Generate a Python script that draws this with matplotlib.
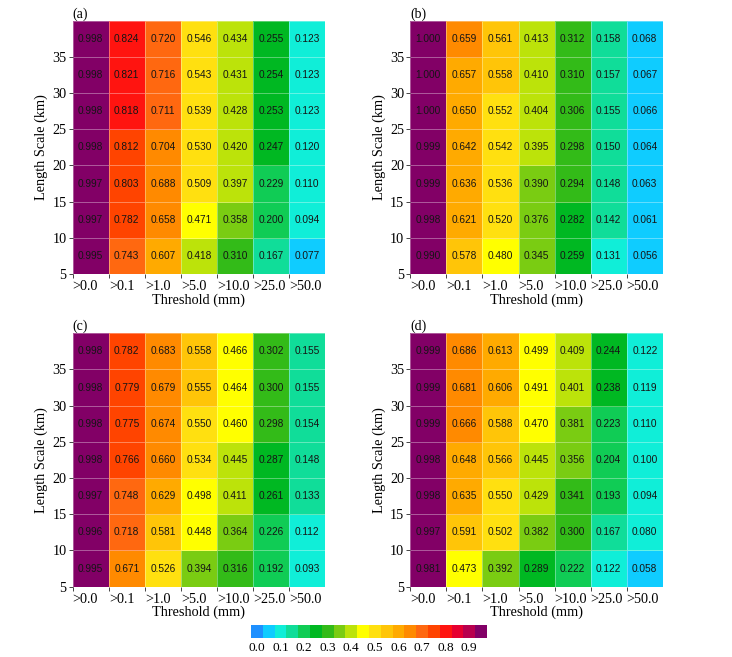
import numpy as np
import matplotlib
matplotlib.use("Agg")
import matplotlib.pyplot as plt
from matplotlib.colors import ListedColormap, BoundaryNorm
from matplotlib.transforms import ScaledTranslation
import matplotlib.cm as cm

thresholds = [">0.0", ">0.1", ">1.0", ">5.0", ">10.0", ">25.0", ">50.0"]
length_ticks = [5, 10, 15, 20, 25, 30, 35]
row_edges = [5, 10, 15, 20, 25, 30, 35, 40]

# rows listed from top (largest length scale) to bottom
panel_a = [
    [0.998, 0.824, 0.720, 0.546, 0.434, 0.255, 0.123],
    [0.998, 0.821, 0.716, 0.543, 0.431, 0.254, 0.123],
    [0.998, 0.818, 0.711, 0.539, 0.428, 0.253, 0.123],
    [0.998, 0.812, 0.704, 0.530, 0.420, 0.247, 0.120],
    [0.997, 0.803, 0.688, 0.509, 0.397, 0.229, 0.110],
    [0.997, 0.782, 0.658, 0.471, 0.358, 0.200, 0.094],
    [0.995, 0.743, 0.607, 0.418, 0.310, 0.167, 0.077],
]
panel_b = [
    [1.000, 0.659, 0.561, 0.413, 0.312, 0.158, 0.068],
    [1.000, 0.657, 0.558, 0.410, 0.310, 0.157, 0.067],
    [1.000, 0.650, 0.552, 0.404, 0.306, 0.155, 0.066],
    [0.999, 0.642, 0.542, 0.395, 0.298, 0.150, 0.064],
    [0.999, 0.636, 0.536, 0.390, 0.294, 0.148, 0.063],
    [0.998, 0.621, 0.520, 0.376, 0.282, 0.142, 0.061],
    [0.990, 0.578, 0.480, 0.345, 0.259, 0.131, 0.056],
]
panel_c = [
    [0.998, 0.782, 0.683, 0.558, 0.466, 0.302, 0.155],
    [0.998, 0.779, 0.679, 0.555, 0.464, 0.300, 0.155],
    [0.998, 0.775, 0.674, 0.550, 0.460, 0.298, 0.154],
    [0.998, 0.766, 0.660, 0.534, 0.445, 0.287, 0.148],
    [0.997, 0.748, 0.629, 0.498, 0.411, 0.261, 0.133],
    [0.996, 0.718, 0.581, 0.448, 0.364, 0.226, 0.112],
    [0.995, 0.671, 0.526, 0.394, 0.316, 0.192, 0.093],
]
panel_d = [
    [0.999, 0.686, 0.613, 0.499, 0.409, 0.244, 0.122],
    [0.999, 0.681, 0.606, 0.491, 0.401, 0.238, 0.119],
    [0.999, 0.666, 0.588, 0.470, 0.381, 0.223, 0.110],
    [0.998, 0.648, 0.566, 0.445, 0.356, 0.204, 0.100],
    [0.998, 0.635, 0.550, 0.429, 0.341, 0.193, 0.094],
    [0.997, 0.591, 0.502, 0.382, 0.300, 0.167, 0.080],
    [0.981, 0.473, 0.392, 0.289, 0.222, 0.122, 0.058],
]
panel_labels = ["(a)", "(b)", "(c)", "(d)"]
cbar_labels = ["0.0", "0.1", "0.2", "0.3", "0.4", "0.5", "0.6", "0.7", "0.8", "0.9"]

colors = [
    "#1E90FF", "#0FCCFF", "#10EED8", "#10DD99", "#10CC55",
    "#00B822", "#33BB18", "#7ACC12", "#BCE30A", "#FFFF00",
    "#FFE010", "#FFC508", "#FFAA00", "#FF8A00", "#FF6810",
    "#FF4400", "#FF1410", "#E60030", "#B8004E", "#820066",
]
cmap = ListedColormap(colors)
# each value maps to the nearest of 20 evenly spaced colour levels (k/19)
cell_norm = BoundaryNorm((np.arange(21) - 0.5) / 19.0, 20)

serif = ["Liberation Serif", "DejaVu Serif"]
sans = ["Liberation Sans", "DejaVu Sans"]

fig = plt.figure(figsize=(7.32, 6.57), dpi=100)
W, H = 732, 657
pos = [(72.7, 20.7), (410.3, 20.7), (72.7, 333.3), (410.3, 333.3)]
aw, ah = 252.5, 253.3

for (px, py), data, lab in zip(pos, [panel_a, panel_b, panel_c, panel_d], panel_labels):
    ax = fig.add_axes([px / W, 1 - (py + ah) / H, aw / W, ah / H])
    arr = np.array(data)[::-1]  # bottom row first
    xe = np.arange(len(thresholds) + 1)
    ax.pcolormesh(xe, row_edges, arr, cmap=cmap, norm=cell_norm,
                  edgecolors=(1, 1, 1, 0.35), linewidth=0.5)
    for i in range(arr.shape[0]):
        yc = (row_edges[i] + row_edges[i + 1]) / 2
        for j in range(arr.shape[1]):
            ax.text(j + 0.5, yc, f"{arr[i, j]:.3f}", ha="center", va="center",
                    fontsize=7.3, family=sans, color="#151515")
    ax.set_xlim(0, len(thresholds))
    ax.set_ylim(row_edges[0], row_edges[-1])
    ax.set_xticks(np.arange(len(thresholds)))
    ax.set_xticklabels(thresholds, family=serif, fontsize=10.2, ha="left")
    ax.set_yticks(length_ticks)
    ax.set_yticklabels([str(t) for t in length_ticks], family=serif, fontsize=10.2)
    off_x = ScaledTranslation(-3 / 100, 0, fig.dpi_scale_trans)
    for t in ax.get_xticklabels():
        t.set_transform(t.get_transform() + off_x)
    off_y = ScaledTranslation(0, 2 / 100, fig.dpi_scale_trans)
    for t in ax.get_yticklabels():
        t.set_transform(t.get_transform() + off_y)
    ax.tick_params(direction="out", length=3, width=0.7, color="#444444", pad=1.5)
    for s in ax.spines.values():
        s.set_visible(False)
    ax.set_xlabel("Threshold (mm)", family=serif, fontsize=10.3, labelpad=0)
    ax.set_ylabel("Length Scale (km)", family=serif, fontsize=10.3, labelpad=3)
    ax.text(0.0, 1.0, lab, transform=ax.transAxes, ha="left", va="bottom",
            family=serif, fontsize=10)

cax = fig.add_axes([251 / W, 1 - 638 / H, 236 / W, 13 / H])
sm = cm.ScalarMappable(cmap=cmap, norm=BoundaryNorm(np.linspace(0, 1, 21), 20))
cb = fig.colorbar(sm, cax=cax, orientation="horizontal")
cb.outline.set_visible(False)
cb.set_ticks(0.025 + 0.1 * np.arange(len(cbar_labels)))
cb.set_ticklabels(cbar_labels)
cax.minorticks_off()
cax.tick_params(length=0, pad=3)
for t in cax.get_xticklabels():
    t.set_family(serif)
    t.set_fontsize(9.6)

fig.savefig("out.png", dpi=100)
